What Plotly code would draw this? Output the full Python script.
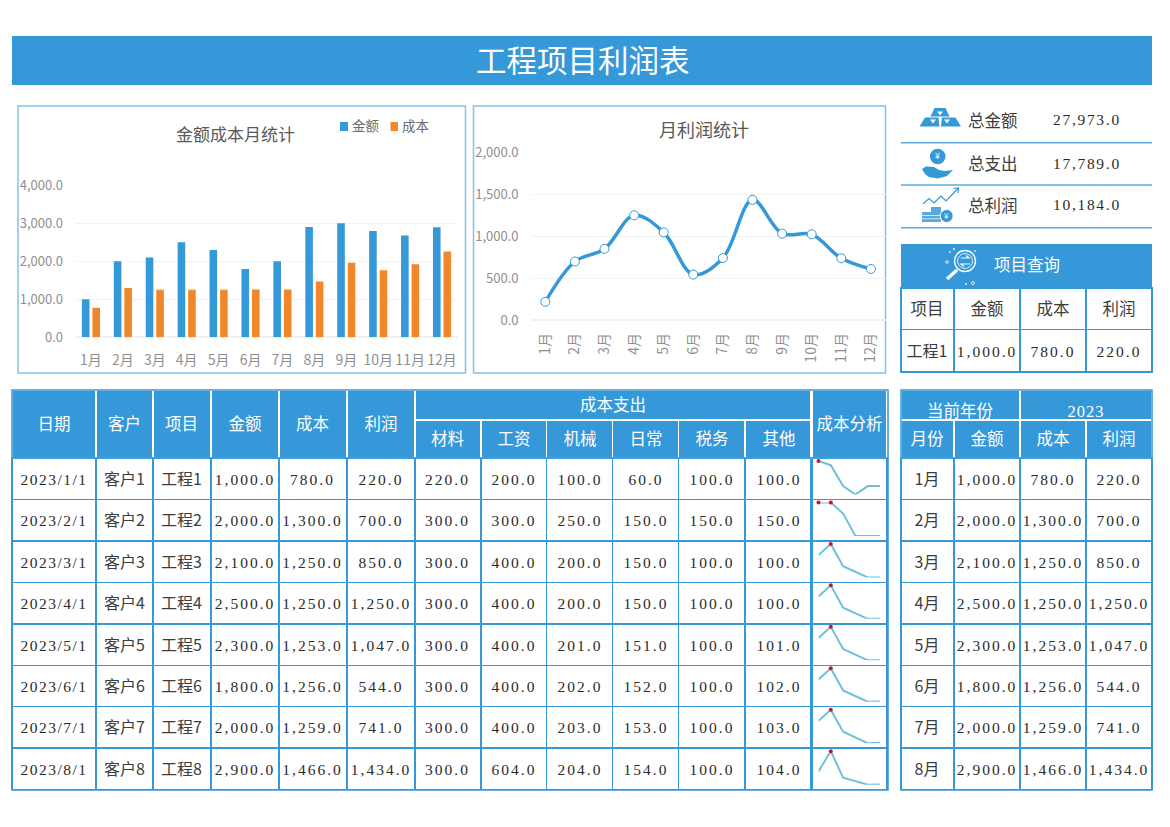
import plotly.graph_objects as go

# page size
W, H = 1170, 827

# Data
months = ["1月", "2月", "3月", "4月", "5月", "6月", "7月", "8月", "9月", "10月", "11月", "12月"]
amount = [1000, 2000, 2100, 2500, 2300, 1800, 2000, 2900, 3000, 2800, 2680, 2893]
cost = [780, 1300, 1250, 1250, 1253, 1256, 1259, 1466, 1960, 1765, 1925, 2260]
profit = [220, 700, 850, 1250, 1047, 544, 741, 1434, 1032, 1024, 738, 611]

dates = ["2023/1/1", "2023/2/1", "2023/3/1", "2023/4/1", "2023/5/1", "2023/6/1", "2023/7/1", "2023/8/1"]
customers = ["客户1", "客户2", "客户3", "客户4", "客户5", "客户6", "客户7", "客户8"]
projects = ["工程1", "工程2", "工程3", "工程4", "工程5", "工程6", "工程7", "工程8"]
material = [220, 300, 300, 300, 300, 300, 300, 300]
wages = [200, 300, 400, 400, 400, 400, 400, 604]
machine = [100, 250, 200, 200, 201, 202, 203, 204]
daily = [60, 150, 150, 150, 151, 152, 153, 154]
tax = [100, 150, 100, 100, 100, 100, 100, 100]
other = [100, 150, 100, 100, 101, 102, 103, 104]
cost_items = ["材料", "工资", "机械", "日常", "税务", "其他"]

kpi_names = ["总金额", "总支出", "总利润"]
kpi_values = ["27,973.0", "17,789.0", "10,184.0"]

# Colours and fonts
blue = "#3598d8"
orange = "#f0872a"
frame = "#85c1ea"
grid = "#f2f2f2"
gray = "#8f8f8f"
ink = "#2b2b2b"
soft_ink = "#3d3d3d"
spark = "#6fc1da"
clear = "rgba(0,0,0,0)"
cjk = "Noto Sans CJK SC"
serif = "Liberation Serif, Noto Sans CJK SC"


def px(x):
    return x / W


def py(y):
    return 1 - y / H


def wide(text, gap=2):
    # the numbers in the picture are widely spaced
    return f'<span style="letter-spacing:{gap}px">{text}</span>'


def cell(text, gap=2):
    # go.Table would split the tag at its space, the <br> stops that
    return wide(text, gap) + "<br>"


def fmt(vals):
    return [cell(f"{v:,.1f}") for v in vals]


def poly(points, close=True):
    d = "M " + " L ".join(f"{px(x):.5f} {py(y):.5f}" for x, y in points)
    return d + (" Z" if close else "")


fig = go.Figure()
shapes = []
annotations = []


def rect(x0, y0, x1, y1, fill=None, line=None, width=1, layer="below"):
    shapes.append(dict(type="rect", xref="paper", yref="paper", x0=px(x0), x1=px(x1), y0=py(y1), y1=py(y0),
                       fillcolor=fill or clear, line=dict(color=line or clear, width=width), layer=layer))


def circle(cx, cy, r, fill=None, line=None, width=1):
    shapes.append(dict(type="circle", xref="paper", yref="paper", x0=px(cx - r), x1=px(cx + r), y0=py(cy + r), y1=py(cy - r),
                       fillcolor=fill or clear, line=dict(color=line or clear, width=width), layer="above"))


def shape_path(points, fill=None, line=None, width=1, close=True):
    shapes.append(dict(type="path", xref="paper", yref="paper", path=poly(points, close),
                       fillcolor=fill or clear, line=dict(color=line or clear, width=width), layer="above"))


def label(x, y, text, size=16, color=soft_ink, family=cjk, anchor="center"):
    annotations.append(dict(x=px(x), y=py(y), xref="paper", yref="paper", text=text, showarrow=False, xanchor=anchor,
                            yanchor="middle", font=dict(size=size, color=color, family=family)))


big = dict(size=16, family=cjk, lift=14, color=soft_ink)
num = dict(size=15.5, family=serif, lift=16, color=ink)


def table(edges, y0, y1, header, header_h, cols=None, cell_h=41.45, fonts=None, fill="white", head_fill=blue,
          head_line="white", head_color="white", head_shift=None, head_family=None):
    total = edges[-1] - edges[0]
    widths = [(b - a) / total for a, b in zip(edges[:-1], edges[1:])]
    n = len(widths)
    fonts = fonts or [num] * n
    nrows = len(cols[0]) if cols else 0
    # grid table: fills and lines only
    fig.add_trace(go.Table(
        domain=dict(x=[px(edges[0]), px(edges[-1])], y=[py(y1 + 2), py(y0)]),
        columnwidth=widths,
        header=dict(values=[""] * n, height=header_h, fill_color=head_fill, line=dict(color=head_line, width=1.5)),
        cells=dict(values=[[""] * nrows for _ in range(n)], height=cell_h, fill_color=fill, line=dict(color=blue, width=1.5)),
    ))
    # text tables on top: go.Table pins text to the top of a cell, so each column is moved down to centre it
    for j in range(n):
        hs = head_shift[j] if head_shift else header_h / 2 - 14
        bs = cell_h / 2 - fonts[j]["lift"]
        fig.add_trace(go.Table(
            domain=dict(x=[px(edges[j]), px(edges[j + 1])], y=[py(y1 + bs + 4), py(y0 + hs)]),
            header=dict(values=[header[j]], height=header_h - hs + bs, fill_color=clear, align="center",
                        line=dict(color=clear, width=0),
                        font=dict(size=16.5, family=(head_family or [cjk] * n)[j], color=head_color)),
            cells=dict(values=[cols[j]] if cols else [[]], height=cell_h, align="center", fill_color=clear,
                       line=dict(color=clear, width=0),
                       font=dict(size=fonts[j]["size"], family=fonts[j]["family"], color=fonts[j]["color"])),
        ))


# 1) Bar chart
fig.add_trace(go.Bar(x=months, y=amount, name="金额", showlegend=False, marker=dict(color=blue, line=dict(width=0)), xaxis="x", yaxis="y"))
fig.add_trace(go.Bar(x=months, y=cost, name="成本", showlegend=False, marker=dict(color=orange, line=dict(width=0)), xaxis="x", yaxis="y"))

# 2) Line chart
fig.add_trace(go.Scatter(
    x=months, y=profit, mode="lines+markers", showlegend=False, xaxis="x2", yaxis="y2",
    line=dict(color=blue, width=3.5, shape="spline", smoothing=1.0),
    marker=dict(size=9, color="white", line=dict(color=blue, width=1)),
))

axis_font = dict(size=13, family=cjk, color=gray)
layout_axes = dict(
    xaxis=dict(domain=[px(75), px(458)], anchor="y", range=[-0.5, 11.5], showgrid=False, zeroline=False,
               tickfont=dict(size=14, family=cjk, color=gray), ticks="", ticklabelstandoff=13, showline=False, tickangle=0),
    yaxis=dict(domain=[py(337.3), py(185.3)], anchor="x", range=[0, 4000], dtick=1000, tickformat=",.1f", gridcolor=grid,
               gridwidth=1, zeroline=True, zerolinecolor=grid, tickfont=axis_font, ticklabelstandoff=11, showline=False),
    xaxis2=dict(domain=[px(530.5), px(885.7)], anchor="y2", range=[-0.5, 11.5], showgrid=False, zeroline=False, tickangle=-90,
                tickfont=dict(size=14, family=cjk, color=gray), ticks="", ticklabelstandoff=9, showline=False),
    yaxis2=dict(domain=[py(320.3), py(152.3)], anchor="x2", range=[0, 2000], dtick=500, tickformat=",.1f", gridcolor=grid,
                gridwidth=1, zeroline=True, zerolinecolor=grid, tickfont=axis_font, ticklabelstandoff=11, showline=False),
)

# 3) Sparklines in the 成本分析 column
row_top = 458
row_h = 41.45
for i in range(8):
    vals = [material[i], wages[i], machine[i], daily[i], tax[i], other[i]]
    n = i + 3
    top = row_top + i * row_h
    fig.add_trace(go.Scatter(x=cost_items, y=vals, mode="lines", showlegend=False, xaxis=f"x{n}", yaxis=f"y{n}",
                             line=dict(color=spark, width=2), hoverinfo="skip", cliponaxis=False))
    high = [k for k, v in zip(cost_items, vals) if v == max(vals)]
    fig.add_trace(go.Scatter(x=high, y=[max(vals)] * len(high), mode="markers", showlegend=False, xaxis=f"x{n}", yaxis=f"y{n}",
                             marker=dict(color="#d0112b", size=4), hoverinfo="skip", cliponaxis=False))
    layout_axes[f"xaxis{n}"] = dict(domain=[px(818.5), px(880)], anchor=f"y{n}", visible=False, range=[0, 5])
    layout_axes[f"yaxis{n}"] = dict(domain=[py(top + 36.5), py(top + 3)], anchor=f"x{n}", visible=False,
                                    range=[min(vals), max(vals)])

# 4) Tables
date_labels = [cell(d, 1.5) for d in dates]
table([12, 96, 153, 211, 279, 347, 415], 390, 790, ["日期", "客户", "项目", "金额", "成本", "利润"], 68,
      [date_labels, customers, projects, fmt(amount[:8]), fmt(cost[:8]), fmt(profit[:8])],
      fonts=[num, big, big, num, num, num])
table([415, 812], 390, 420, ["成本支出"], 30)
table([415, 481, 547, 613, 679, 746, 812], 420, 790, cost_items, 38,
      [fmt(material), fmt(wages), fmt(machine), fmt(daily), fmt(tax), fmt(other)])
table([812, 888], 390, 790, ["成本分析"], 68, [[""] * 8], fill=clear)
table([901, 1020, 1152], 390, 420, ["当前年份", cell("2023", 1)], 30, head_shift=[7, 4], head_family=[cjk, serif])
table([901, 954, 1020, 1086, 1152], 420, 790, ["月份", "金额", "成本", "利润"], 38,
      [months[:8], fmt(amount[:8]), fmt(cost[:8]), fmt(profit[:8])], fonts=[big, num, num, num])
table([901, 954, 1020, 1086, 1152], 288, 372, ["项目", "金额", "成本", "利润"], 41.5,
      [[projects[0]], fmt(amount[:1]), fmt(cost[:1]), fmt(profit[:1])], cell_h=42.5, fonts=[big, num, num, num],
      head_fill="white", head_line=blue, head_color=soft_ink)

# outer edges of the tables
rect(12, 458, 888, 790, line=blue, width=1.5, layer="above")
rect(12, 390, 888, 458, line=blue, width=1.5, layer="above")
rect(901, 458, 1152, 790, line=blue, width=1.5, layer="above")
rect(901, 390, 1152, 458, line=blue, width=1.5, layer="above")
rect(901, 288, 1152, 372, line=blue, width=1.5, layer="above")

# 5) Banner, frames and KPI block
rect(12, 36, 1152, 85, fill=blue)
label(583, 58.5, "工程项目利润表", size=30.5, color="white")
rect(18, 106, 465.5, 373, line=frame, width=1.5)
rect(473.5, 106, 885.5, 373, line=frame, width=1.5)
label(235, 133, "金额成本月统计", size=17, color="#595959")
label(704, 128.5, "月利润统计", size=18, color="#595959")

# legend of the bar chart
rect(340, 122, 348, 131, fill=blue)
label(349.5, 125, "金额", size=13.5, color="#6b6b6b", anchor="left")
rect(390.5, 122, 398, 131, fill=orange)
label(399.5, 125, "成本", size=13.5, color="#6b6b6b", anchor="left")

for ky in [142.7, 185, 227.7]:
    rect(901, ky - 0.75, 1152, ky + 0.75, fill="#5aabe0")
for name, value, ky in zip(kpi_names, kpi_values, [120, 163, 205]):
    label(965.5, ky, name, size=16.5, anchor="left")
    label(1122.5, ky, wide(value, 1.7), size=15.5, family=serif, color=ink, anchor="right")
rect(901, 244, 1152, 288, fill=blue)
label(1027, 264, "项目查询", size=16.5, color="white")

# Icons: gold bars
shape_path([(919.5, 126.5), (925, 117.5), (938.5, 117.5), (939.5, 126.5)], fill=blue)
shape_path([(941, 126.5), (942, 117.5), (955.5, 117.5), (961, 126.5)], fill=blue)
shape_path([(930.5, 116.5), (934.5, 108), (945.5, 108), (949.5, 116.5)], fill=blue)
for gx, gy in [(933, 121), (947, 121), (940, 113)]:
    shape_path([(gx - 3, gy - 1.5), (gx + 3, gy - 1.5), (gx, gy + 2.5)], fill="white")
# Icons: coin in hand
circle(937.7, 156.5, 7.8, fill=blue)
label(937.7, 155.5, "¥", size=9, color="white")
shape_path([(922, 169), (926, 166.5), (934, 167), (939, 170), (945, 171), (953, 170), (947, 176), (938, 178.5), (929, 177), (925, 174)], fill=blue)
# Icons: trend and coins
shape_path([(923, 204), (929, 198.5), (934, 203), (941, 196), (946, 201), (958, 188.5)], line=blue, width=1.2, close=False)
shape_path([(953.5, 188.5), (958.5, 188), (958, 193)], line=blue, width=1.2, close=False)
rect(922, 212, 937, 222, fill="#5aa9de", layer="above")
rect(931, 207, 941, 222, fill="#5aa9de", layer="above")
for sy in [215, 218.5]:
    rect(922, sy, 941, sy + 0.7, fill="white", layer="above")
circle(946.7, 216, 6.5, fill=blue, line="white", width=1)
label(946.7, 215, "¥", size=8, color="white")
# Icons: magnifier
circle(965, 261, 10.5, line="white", width=1.4)
circle(965, 261, 7.5, line="white", width=0.8)
shape_path([(957, 270), (947, 279)], line="white", width=3.5, close=False)
shape_path([(961, 258), (969, 258), (966, 255.5)], line="white", width=1.2, close=False)
shape_path([(970, 264), (961, 264), (964, 266.5)], line="white", width=1.2, close=False)
for dx, dy, dr in [(947, 262, 1.3), (954, 249, 0.8), (973, 283, 1.5), (950, 252, 0.6), (975, 251, 0.6), (966, 284, 0.7)]:
    circle(dx, dy, dr, line="white", width=0.8)

fig.update_layout(
    width=W,
    height=H,
    margin=dict(l=0, r=0, t=0, b=0, autoexpand=False),
    paper_bgcolor="white",
    plot_bgcolor=clear,
    barmode="group",
    bargap=0.34,
    bargroupgap=0.28,
    hovermode=False,
    showlegend=False,
    shapes=shapes,
    annotations=annotations,
    **layout_axes,
)

fig.write_html("out.html", config=dict(displayModeBar=False),
               post_script="document.body.style.margin='0';document.body.style.overflow='hidden';")
